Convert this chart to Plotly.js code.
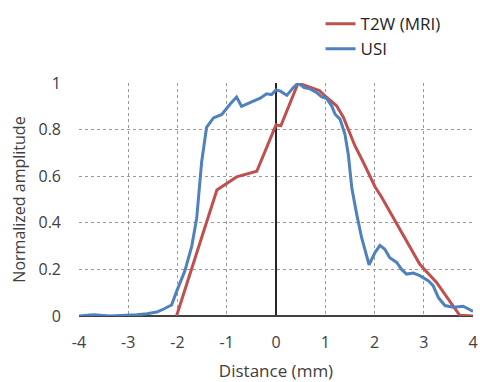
<!DOCTYPE html>
<html><head><meta charset="utf-8">
<script src="https://cdn.plot.ly/plotly-3.0.1.min.js"></script>
<style>html,body{margin:0;padding:0;background:#fff}#chart{width:480px;height:382px}</style>
</head><body><div id="chart"></div>
<script>
const t2wX = [-2.02, -1.20, -0.80, -0.39, 0.00, 0.10, 0.45, 0.62, 0.88, 1.02, 1.23, 1.37, 1.60, 1.77, 2.01, 2.14, 2.92, 3.26, 3.73, 4.00];
const t2wY = [0.00, 0.541, 0.597, 0.621, 0.82, 0.817, 1.00, 0.987, 0.968, 0.94, 0.902, 0.852, 0.732, 0.661, 0.555, 0.512, 0.222, 0.144, 0.003, 0.00];

const usiX = [-4.00, -3.71, -3.37, -3.03, -2.83, -2.62, -2.42, -2.28, -2.12, -2.01, -1.85, -1.71, -1.61, -1.51, -1.41, -1.27, -1.10, -0.93, -0.80, -0.70, -0.53, -0.32, -0.19, -0.09, 0.00, 0.09, 0.22, 0.35, 0.45, 0.57, 0.69, 0.83, 0.93, 1.03, 1.13, 1.20, 1.30, 1.40, 1.47, 1.54, 1.64, 1.74, 1.89, 2.01, 2.11, 2.21, 2.31, 2.45, 2.55, 2.65, 2.79, 2.92, 3.09, 3.19, 3.30, 3.43, 3.60, 3.80, 3.90, 4.00];
const usiY = [0.00, 0.005, 0.00, 0.002, 0.005, 0.010, 0.017, 0.030, 0.047, 0.11, 0.194, 0.30, 0.42, 0.66, 0.81, 0.85, 0.865, 0.91, 0.94, 0.90, 0.917, 0.935, 0.954, 0.95, 0.97, 0.965, 0.947, 0.98, 1.00, 0.98, 0.975, 0.958, 0.94, 0.933, 0.902, 0.866, 0.845, 0.78, 0.69, 0.548, 0.435, 0.335, 0.22, 0.272, 0.303, 0.286, 0.25, 0.23, 0.20, 0.18, 0.184, 0.173, 0.152, 0.13, 0.078, 0.045, 0.038, 0.042, 0.031, 0.02];

const xTicks = [-4, -3, -2, -1, 0, 1, 2, 3, 4];
const xTickText = ['-4', '-3', '-2', '-1', '0', '1', '2', '3', '4'];
const yTicks = [0, 0.2, 0.4, 0.6, 0.8, 1];
const yTickText = ['0', '0.2', '0.4', '0.6', '0.8', '1'];

const FONT = '"Open Sans", sans-serif';
const data = [
  {x: t2wX, y: t2wY, name: 'T2W (MRI)', type: 'scatter', mode: 'lines', line: {color: '#C0504D', width: 3}},
  {x: usiX, y: usiY, name: 'USI', type: 'scatter', mode: 'lines', line: {color: '#4F81BD', width: 3}}
];
const layout = {
  width: 480, height: 382,
  margin: {l: 79, r: 6.5, t: 80, b: 66},
  paper_bgcolor: '#fff', plot_bgcolor: '#fff',
  font: {family: FONT, size: 16, color: '#404040'},
  showlegend: true,
  legend: {x: 0.613, y: 1.33, xanchor: 'left', yanchor: 'top', bgcolor: 'rgba(0,0,0,0)', font: {size: 17, color: '#262626'}, tracegroupgap: 0},
  xaxis: {
    range: [-4, 4], tickvals: xTicks, ticktext: xTickText, ticks: '', ticklabelstandoff: 15,
    showgrid: true, gridcolor: '#9a9a9a', griddash: 'dot', gridwidth: 1,
    zeroline: true, zerolinecolor: '#262626', zerolinewidth: 1.5, showline: false, automargin: false,
    title: {text: 'Distance (mm)', font: {size: 17, color: '#404040'}, standoff: 14},
    tickfont: {size: 16, color: '#404040'}
  },
  yaxis: {
    range: [0, 1], tickvals: yTicks, ticktext: yTickText, ticks: '', ticklabelstandoff: 17,
    showgrid: true, gridcolor: '#9a9a9a', griddash: 'dot', gridwidth: 1,
    zeroline: true, zerolinecolor: '#404040', zerolinewidth: 1.5, showline: false, automargin: false,
    title: {text: 'Normalized amplitude', font: {size: 16, color: '#404040'}, standoff: 8},
    tickfont: {size: 16, color: '#404040'}
  }
};
Plotly.newPlot('chart', data, layout, {staticPlot: true, displayModeBar: false});
</script></body></html>
